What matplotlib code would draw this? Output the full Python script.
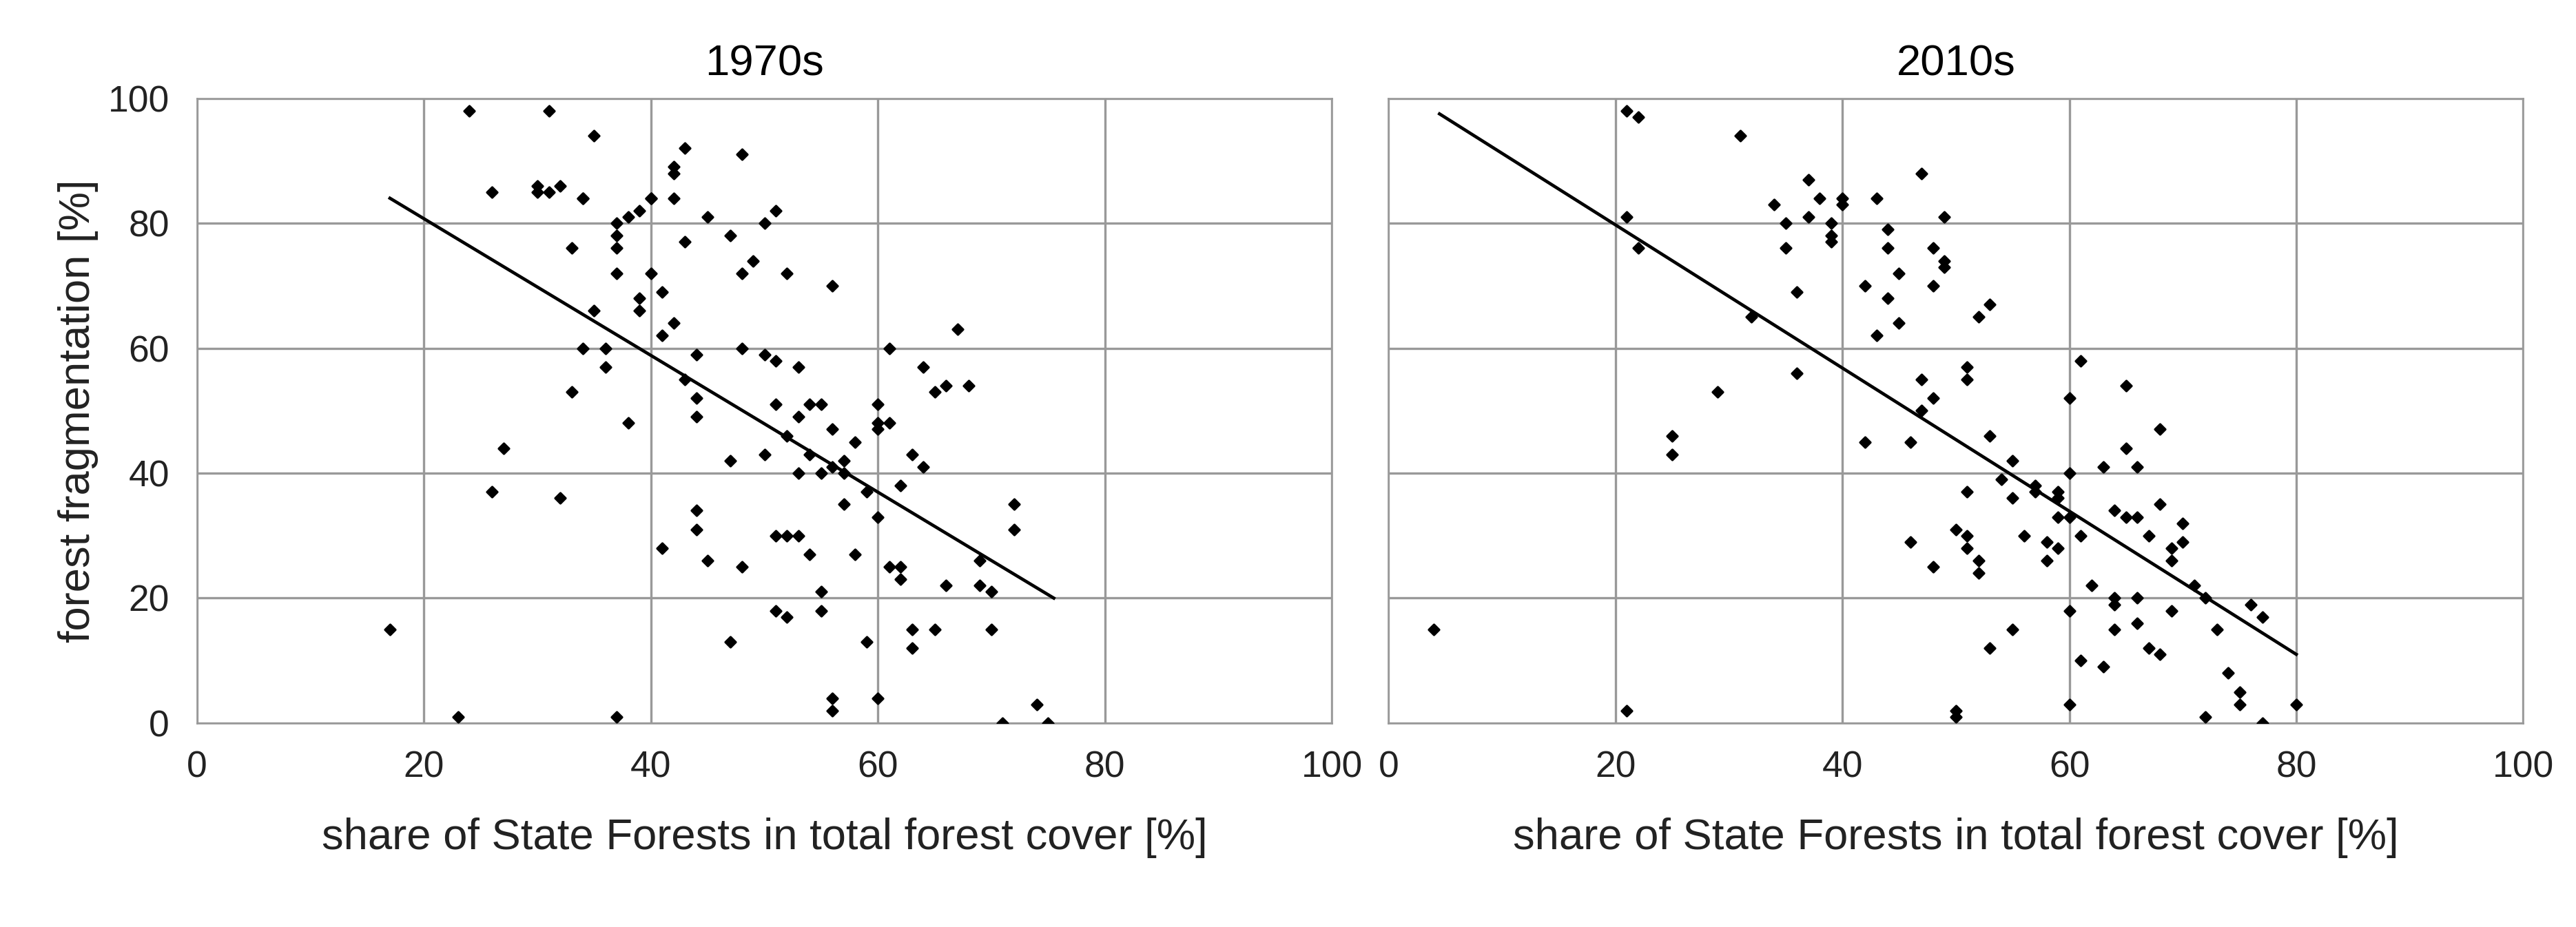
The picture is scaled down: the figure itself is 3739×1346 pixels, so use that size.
import matplotlib
matplotlib.use("Agg")
import matplotlib.pyplot as plt

plt.rcParams['font.family'] = ['Liberation Sans', 'DejaVu Sans']

# 1970s scatter: share of State Forests [%], fragmentation [%]
x70 = [17, 23, 24, 26, 26, 27, 30, 30, 31, 31, 32, 32, 33, 33, 34, 34, 34, 35, 35, 36, 36, 37, 37, 37, 37, 38, 37,
       38, 39, 39, 39, 40, 40, 40, 41, 41, 41, 42, 42, 42, 42, 43, 43, 43, 44, 44, 44, 44, 44, 45, 45, 47, 47, 47,
       48, 48, 48, 48, 49, 50, 50, 50, 51, 51, 51, 51, 51, 52, 52, 52, 52, 53, 53, 53, 53, 54, 54, 54, 55, 55, 55,
       55, 56, 56, 56, 56, 56, 57, 57, 57, 58, 58, 59, 59, 60, 60, 60, 60, 60, 61, 61, 61, 62, 62, 62, 63, 63, 63,
       64, 64, 65, 65, 66, 66, 67, 68, 69, 69, 70, 70, 71, 72, 72, 74, 75]
y70 = [15, 1, 98, 37, 85, 44, 86, 85, 85, 98, 86, 36, 53, 76, 84, 84, 60, 66, 94, 57, 60, 80, 78, 72, 76, 48, 1,
       81, 82, 68, 66, 84, 84, 72, 69, 62, 28, 89, 88, 84, 64, 77, 92, 55, 59, 52, 49, 34, 31, 26, 81, 78, 42, 13,
       91, 72, 60, 25, 74, 59, 43, 80, 82, 58, 51, 18, 30, 30, 46, 72, 17, 57, 49, 40, 30, 51, 27, 43, 51, 40, 21,
       18, 70, 47, 41, 4, 2, 35, 42, 40, 27, 45, 37, 13, 51, 48, 47, 33, 4, 60, 48, 25, 23, 25, 38, 15, 43, 12,
       57, 41, 53, 15, 22, 54, 63, 54, 26, 22, 21, 15, 0, 31, 35, 3, 0]
trend70_x = [17, 75.5]
trend70_y = [84, 20]

# 2010s scatter
x10 = [4, 21, 21, 22, 21, 22, 25, 25, 29, 31, 32, 34, 35, 35, 36, 36, 37, 37, 38, 39, 39, 39, 40, 40, 42, 42, 43,
       43, 44, 44, 44, 45, 45, 46, 46, 47, 47, 47, 48, 48, 48, 48, 49, 49, 49, 50, 50, 50, 51, 51, 51, 51, 51, 52,
       52, 52, 53, 53, 53, 54, 55, 55, 55, 56, 57, 57, 58, 58, 59, 59, 59, 59, 60, 60, 60, 60, 60, 61, 61, 61, 62,
       63, 63, 64, 64, 64, 64, 65, 65, 65, 66, 66, 66, 66, 67, 67, 68, 68, 68, 69, 69, 69, 70, 70, 71, 72, 72, 73,
       74, 75, 75, 76, 77, 77, 80]
y10 = [15, 2, 98, 97, 81, 76, 46, 43, 53, 94, 65, 83, 76, 80, 56, 69, 81, 87, 84, 80, 78, 77, 84, 83, 70, 45, 84,
       62, 79, 68, 76, 72, 64, 29, 45, 88, 55, 50, 76, 52, 25, 70, 81, 73, 74, 31, 1, 2, 57, 30, 55, 37, 28, 26,
       24, 65, 67, 46, 12, 39, 42, 36, 15, 30, 38, 37, 29, 26, 28, 36, 33, 37, 33, 52, 40, 3, 18, 10, 58, 30, 22,
       41, 9, 20, 19, 34, 15, 54, 44, 33, 20, 33, 16, 41, 30, 12, 11, 35, 47, 28, 18, 26, 32, 29, 22, 20, 1, 15,
       8, 3, 5, 19, 17, 0, 3]
trend10_x = [4.5, 80]
trend10_y = [97.5, 11]

titles = ['1970s', '2010s']
xlabel = 'share of State Forests in total forest cover [%]'
ylabel = 'forest fragmentation [%]'

fig = plt.figure(figsize=(3739 / 240, 1346 / 240), dpi=240)
axes = [fig.add_axes([0.0765, 0.22, 0.4405, 0.674]),
        fig.add_axes([0.539, 0.22, 0.4405, 0.674])]
data = [(x70, y70, trend70_x, trend70_y), (x10, y10, trend10_x, trend10_y)]

for i, (ax, (xs, ys, tx, ty)) in enumerate(zip(axes, data)):
    ax.scatter(xs, ys, marker='D', s=10, color='black', zorder=3)
    ax.plot(tx, ty, color='black', lw=1.4, zorder=3)
    ax.set_xlim(0, 100)
    ax.set_ylim(0, 100)
    ax.set_xticks(range(0, 101, 20))
    ax.set_yticks(range(0, 101, 20))
    ax.grid(True, color='#999999', lw=1.0)
    ax.set_axisbelow(True)
    for s in ax.spines.values():
        s.set_color('#999999')
    ax.tick_params(length=0, labelsize=16, pad=12, colors='#222222')
    ax.set_title(titles[i], fontsize=19, pad=10)
    ax.set_xlabel(xlabel, fontsize=19, labelpad=14, color='#222222')
    if i == 0:
        ax.set_ylabel(ylabel, fontsize=19, color='#222222')
    else:
        ax.set_yticklabels([])

fig.savefig('out.png', dpi=240)
